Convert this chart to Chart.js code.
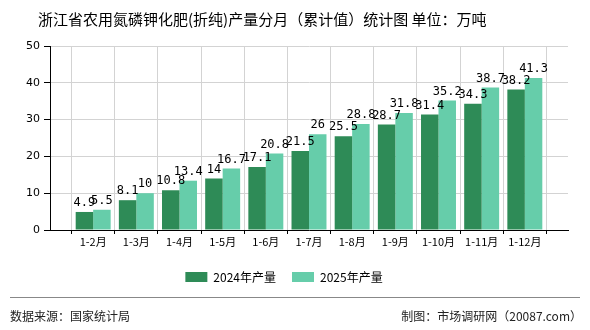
<!DOCTYPE html>
<html>
<head>
<meta charset="utf-8">
<script src="https://cdn.jsdelivr.net/npm/chart.js@4.4.1/dist/chart.umd.min.js"></script>
<style>
  html, body { margin: 0; padding: 0; background: #fff; }
  #wrap { width: 590px; height: 330px; position: relative; }
</style>
</head>
<body>
<div id="wrap"><canvas id="chart" width="590" height="330"></canvas></div>
<script>
// 数据
const months = ['1-2月', '1-3月', '1-4月', '1-5月', '1-6月', '1-7月', '1-8月', '1-9月', '1-10月', '1-11月', '1-12月'];
const output2024 = [4.9, 8.1, 10.8, 14, 17.1, 21.5, 25.5, 28.7, 31.4, 34.3, 38.2];
const output2025 = [5.5, 10, 13.4, 16.7, 20.8, 26, 28.8, 31.8, 35.2, 38.7, 41.3];
const yTicks = [0, 10, 20, 30, 40, 50];

const titleText = '浙江省农用氮磷钾化肥(折纯)产量分月（累计值）统计图 单位：万吨';
const sourceText = '数据来源：国家统计局';
const makerText = '制图：市场调研网（20087.com）';

// 轴两端留空位
const labels = [''].concat(months, ['']);
const pad = arr => [null].concat(arr, [null]);

// 标题、页脚
const extraText = {
    id: 'extraText',
    afterDraw(chart) {
        const c = chart.ctx;
        c.save();
        c.fillStyle = '#000';
        c.font = '15px "Noto Sans CJK SC"';
        c.textBaseline = 'middle';
        c.textAlign = 'left';
        c.fillText(titleText, 38, 19);

        c.strokeStyle = '#888';
        c.lineWidth = 1;
        c.beginPath();
        c.moveTo(10, 297.5);
        c.lineTo(580, 297.5);
        c.stroke();

        c.font = '12px "Noto Sans CJK SC"';
        c.fillStyle = '#222';
        c.fillText(sourceText, 10, 316);
        c.textAlign = 'right';
        c.fillText(makerText, 582, 316);
        c.restore();
    }
};

// 柱顶数值
const barValues = {
    id: 'barValues',
    afterDatasetsDraw(chart) {
        const c = chart.ctx;
        c.save();
        c.font = '12px "DejaVu Sans Mono"';
        c.fillStyle = '#000';
        c.textAlign = 'center';
        c.textBaseline = 'bottom';
        chart.data.datasets.forEach((ds, i) => {
            chart.getDatasetMeta(i).data.forEach((bar, j) => {
                if (ds.data[j] == null) return;
                c.fillText(String(ds.data[j]), bar.x, bar.y - 3);
            });
        });
        c.restore();
    }
};

new Chart(document.getElementById('chart').getContext('2d'), {
    type: 'bar',
    data: {
        labels: labels,
        datasets: [{
            label: '2024年产量',
            data: pad(output2024),
            backgroundColor: '#2E8B57',
            categoryPercentage: 0.81,
            barPercentage: 1.0
        }, {
            label: '2025年产量',
            data: pad(output2025),
            backgroundColor: '#66CDAA',
            categoryPercentage: 0.81,
            barPercentage: 1.0
        }]
    },
    options: {
        responsive: false,
        animation: false,
        layout: { padding: { left: 0, right: 22, top: 46, bottom: 37 } },
        scales: {
            x: {
                offset: false,
                grid: { color: '#d3d3d3', tickColor: '#000', tickLength: 4 },
                border: { color: '#000' },
                ticks: {
                    autoSkip: false,
                    maxRotation: 0,
                    padding: 1,
                    color: '#000',
                    font: { family: '"Noto Sans CJK SC"', size: 11 }
                },
                afterFit(scale) { scale.height = 25; }
            },
            y: {
                min: 0,
                max: 50,
                afterBuildTicks(scale) { scale.ticks = yTicks.map(v => ({ value: v })); },
                grid: { color: '#d3d3d3', tickColor: '#000', tickLength: 6 },
                border: { color: '#000' },
                ticks: {
                    color: '#000',
                    padding: 4,
                    font: { family: '"DejaVu Sans"', size: 11 }
                },
                afterFit(scale) { scale.width = 50; }
            }
        },
        plugins: {
            legend: {
                position: 'bottom',
                labels: {
                    boxWidth: 22,
                    boxHeight: 10,
                    padding: 16,
                    color: '#000',
                    font: { family: '"Noto Sans CJK SC"', size: 12 }
                }
            },
            tooltip: { enabled: false }
        }
    },
    plugins: [barValues, extraText]
});
</script>
</body>
</html>
